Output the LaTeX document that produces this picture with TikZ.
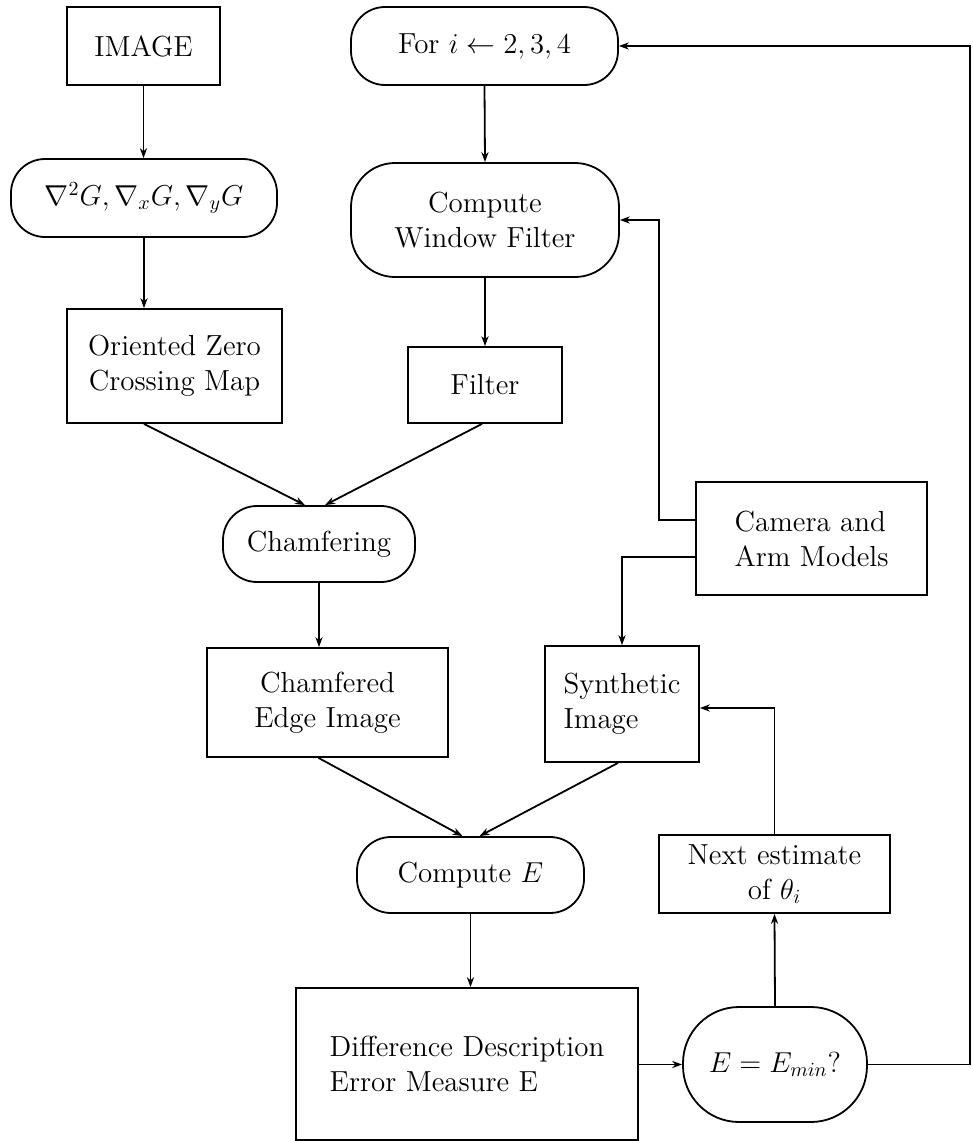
\documentclass[tikz,border=0pt]{standalone}
\usetikzlibrary{arrows.meta,calc}
\begin{document}
\begin{tikzpicture}[x=0.5pt,y=-0.5pt,
  every node/.style={font=\fontsize{14.5}{17.5}\selectfont, inner sep=0pt},
  rbox/.style={draw, line width=0.9pt, rectangle},
  rnd/.style={draw, line width=0.9pt, rectangle, rounded corners=17pt},
  conn/.style={line width=0.9pt, -{Stealth[length=5pt,width=3.6pt]}},
  plain/.style={line width=0.9pt}]
\useasboundingbox (0,0) rectangle (973,1141);
% nodes
\node[rbox, minimum width=76.5pt, minimum height=39pt] (img) at (143.5,46) {IMAGE};
\node[rnd, minimum width=133pt, minimum height=39pt] (grad) at (144,198) {$\nabla^2G,\nabla_xG,\nabla_yG$};
\node[rbox, minimum width=107.5pt, minimum height=57pt, align=center] (ozc) at (174.5,366) {Oriented Zero\\Crossing Map};
\node[rnd, minimum width=133.5pt, minimum height=39pt] (for) at (484.5,46) {For $i \leftarrow 2,3,4$};
\node[rnd, minimum width=134pt, minimum height=57pt, rounded corners=22pt, align=center] (cwf) at (485,220) {Compute\\Window Filter};
\node[rbox, minimum width=77pt, minimum height=38pt] (filt) at (485,385) {Filter};
\node[rnd, minimum width=96pt, minimum height=38pt] (cham) at (319,544) {Chamfering};
\node[rbox, minimum width=120.5pt, minimum height=54.5pt, align=center] (cei) at (327.5,702.5) {Chamfered\\Edge Image};
\node[rbox, minimum width=115.5pt, minimum height=56.5pt, align=left] (cam) at (811.5,538.5) {Camera and\\Arm Models};
\node[rbox, minimum width=77pt, minimum height=58pt, align=left] (syn) at (622,704) {Synthetic\\Image};
\node[rnd, minimum width=113.5pt, minimum height=38pt] (ce) at (470.5,875) {Compute $E$};
\node[rbox, minimum width=115.5pt, minimum height=39pt, align=center] (next) at (774.5,874) {Next estimate\\of $\theta_i$};
\node[rbox, minimum width=171pt, minimum height=76pt, align=left] (diff) at (467,1064) {Difference Description\\Error Measure E};
\node[rnd, minimum width=92pt, minimum height=57.5pt, rounded corners=28pt] (emin) at (775,1064.5) {$E = E_{min}$?};
% bend coordinates
\coordinate (k1) at (659,520);
\coordinate (k2) at (622,557);
\coordinate (r1) at (970,1064.5);
% connectors
\draw[conn] (img.south) -- (img.south |- grad.north);
\draw[conn] (grad.south) -- (grad.south |- ozc.north);
\draw[conn] (for.south) -- (cwf.north);
\draw[conn] (cwf.south) -- (filt.north);
\draw[conn] (grad.south |- ozc.south) -- ($(cham.north)+(-14,0)$);
\draw[conn] ($(filt.south)+(-3,0)$) -- ($(cham.north)+(6,0)$);
\draw[conn] (cham.south) -- (cham.south |- cei.north);
\draw[conn] ($(cei.south)+(-9,0)$) -- ($(ce.north)+(-8,0)$);
\draw[conn] ($(syn.south)+(-4,0)$) -- ($(ce.north)+(9,0)$);
\draw[conn] (ce.south) -- (ce.south |- diff.north);
\draw[conn] (diff.east |- emin.west) -- (emin.west);
\draw[conn] (emin.north) -- (next.south);
\draw[conn] (next.north) |- ($(syn.east)+(0,4)$);
\draw[conn] (cam.west |- k1) -- (k1) |- (cwf.east);
\draw[conn] (cam.west |- k2) -- (k2) -- (syn.north);
\draw[conn] (emin.east) -- (r1) -- (r1 |- for.east) -- (for.east);
\end{tikzpicture}
\end{document}
